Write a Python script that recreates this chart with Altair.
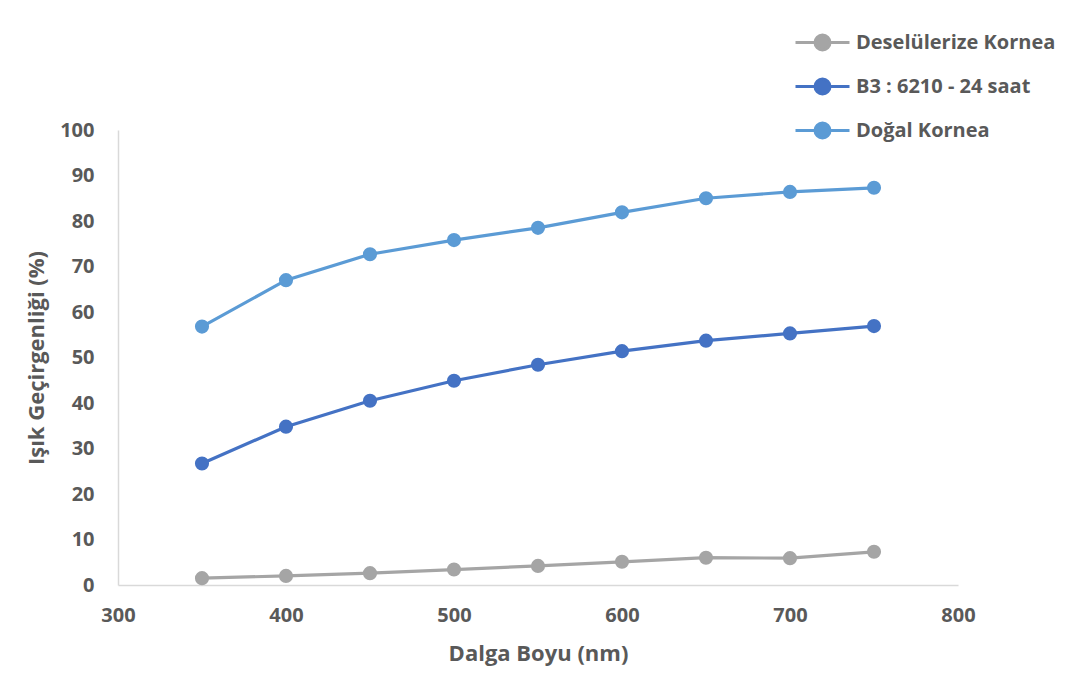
import altair as alt
import pandas as pd

wavelengths = [350, 400, 450, 500, 550, 600, 650, 700, 750]
deselulerize = [1.5, 2.0, 2.6, 3.4, 4.2, 5.1, 6.0, 5.9, 7.3]
b3_6210 = [26.7, 34.8, 40.5, 44.9, 48.4, 51.4, 53.7, 55.3, 56.9]
dogal = [56.8, 67.0, 72.7, 75.8, 78.5, 81.9, 85.0, 86.4, 87.3]
series_names = ["Deselülerize Kornea", "B3 : 6210 - 24 saat", "Doğal Kornea"]
series_colors = ["#A5A5A5", "#4472C4", "#5B9BD5"]
x_ticks = [300, 400, 500, 600, 700, 800]
y_ticks = [0, 10, 20, 30, 40, 50, 60, 70, 80, 90, 100]

rows = []
for name, vals in zip(series_names, [deselulerize, b3_6210, dogal]):
    for w, v in zip(wavelengths, vals):
        rows.append({"wl": w, "val": v, "series": name})
df = pd.DataFrame(rows)

FONT = "Open Sans"
TXT = "#595959"
AXC = "#D9D9D9"

legend_symbol = "M-1.8,0L1.8,0M0.5,0A0.5,0.5,0,1,1,-0.5,0A0.5,0.5,0,1,1,0.5,0Z"

base = alt.Chart(df).encode(
    x=alt.X("wl:Q",
            scale=alt.Scale(domain=[300, 800], nice=False, zero=False),
            axis=alt.Axis(values=x_ticks, title="Dalga Boyu (nm)", grid=False,
                          ticks=False, labelPadding=20, titlePadding=18,
                          labelFlush=False, labelOverlap=False,
                          domainColor=AXC, domainWidth=1.5,
                          labelFont=FONT, labelFontSize=20, labelFontWeight="bold",
                          labelColor=TXT, titleFont=FONT, titleFontSize=22,
                          titleFontWeight="bold", titleColor=TXT)),
    y=alt.Y("val:Q",
            scale=alt.Scale(domain=[0, 100], nice=False),
            axis=alt.Axis(values=y_ticks, title="Işık Geçirgenliği (%)", grid=False,
                          ticks=False, labelPadding=24, titlePadding=11,
                          labelFlush=False, labelOverlap=False,
                          domainColor=AXC, domainWidth=1.5,
                          labelFont=FONT, labelFontSize=20, labelFontWeight="bold",
                          labelColor=TXT, titleFont=FONT, titleFontSize=22,
                          titleFontWeight="bold", titleColor=TXT)),
    color=alt.Color("series:N",
                    scale=alt.Scale(domain=series_names, range=series_colors),
                    legend=alt.Legend(title=None, orient="none", legendX=688, legendY=-104,
                                      symbolType=legend_symbol, symbolSize=900,
                                      symbolStrokeWidth=3, rowPadding=14, labelOffset=17,
                                      padding=0, labelFont=FONT, labelFontSize=20,
                                      labelFontWeight="bold", labelColor=TXT,
                                      labelLimit=400)),
    order=alt.Order("wl:Q"),
)

lines = base.mark_line(strokeWidth=3.2)
points = base.mark_point(filled=True, size=200, opacity=1)

chart = (lines + points).properties(
    width=840, height=455,
    background="white",
    autosize=alt.AutoSizeParams(type="none"),
    padding={"left": 110, "top": 122, "right": 114, "bottom": 81},
).configure_view(stroke=None, strokeWidth=0)

chart.save("out.html", embed_options={"renderer": "svg", "actions": False})
